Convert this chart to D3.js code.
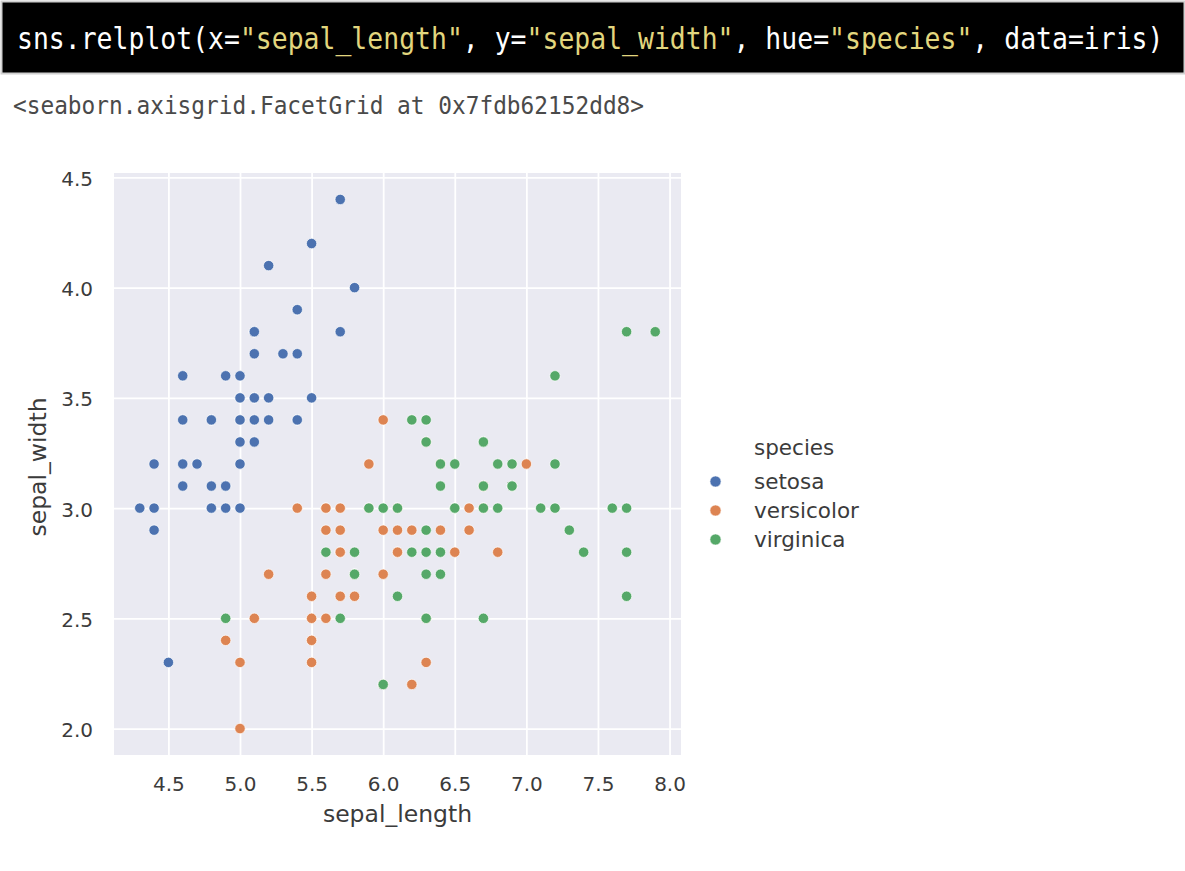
<!DOCTYPE html>
<html>
<head>
<meta charset="utf-8">
<script src="https://cdn.jsdelivr.net/npm/d3@7"></script>
<style>
  html, body { margin: 0; padding: 0; background: #ffffff; }
  svg { display: block; }
</style>
</head>
<body>
<div id="chart"></div>
<script>
// ---- data (iris: sepal_length / sepal_width, dataset order) ----
const species = ["setosa", "versicolor", "virginica"];
const setosaX = [5.1,4.9,4.7,4.6,5.0,5.4,4.6,5.0,4.4,4.9,5.4,4.8,4.8,4.3,5.8,5.7,5.4,5.1,5.7,5.1,5.4,5.1,4.6,5.1,4.8,5.0,5.0,5.2,5.2,4.7,4.8,5.4,5.2,5.5,4.9,5.0,5.5,4.9,4.4,5.1,5.0,4.5,4.4,5.0,5.1,4.8,5.1,4.6,5.3,5.0];
const setosaY = [3.5,3.0,3.2,3.1,3.6,3.9,3.4,3.4,2.9,3.1,3.7,3.4,3.0,3.0,4.0,4.4,3.9,3.5,3.8,3.8,3.4,3.7,3.6,3.3,3.4,3.0,3.4,3.5,3.4,3.2,3.1,3.4,4.1,4.2,3.1,3.2,3.5,3.6,3.0,3.4,3.5,2.3,3.2,3.5,3.8,3.0,3.8,3.2,3.7,3.3];
const versicolorX = [7.0,6.4,6.9,5.5,6.5,5.7,6.3,4.9,6.6,5.2,5.0,5.9,6.0,6.1,5.6,6.7,5.6,5.8,6.2,5.6,5.9,6.1,6.3,6.1,6.4,6.6,6.8,6.7,6.0,5.7,5.5,5.5,5.8,6.0,5.4,6.0,6.7,6.3,5.6,5.5,5.5,6.1,5.8,5.0,5.6,5.7,5.7,6.2,5.1,5.7];
const versicolorY = [3.2,3.2,3.1,2.3,2.8,2.8,3.3,2.4,2.9,2.7,2.0,3.0,2.2,2.9,2.9,3.1,3.0,2.7,2.2,2.5,3.2,2.8,2.5,2.8,2.9,3.0,2.8,3.0,2.9,2.6,2.4,2.4,2.7,2.7,3.0,3.4,3.1,2.3,3.0,2.5,2.6,3.0,2.6,2.3,2.7,3.0,2.9,2.9,2.5,2.8];
const virginicaX = [6.3,5.8,7.1,6.3,6.5,7.6,4.9,7.3,6.7,7.2,6.5,6.4,6.8,5.7,5.8,6.4,6.5,7.7,7.7,6.0,6.9,5.6,7.7,6.3,6.7,7.2,6.2,6.1,6.4,7.2,7.4,7.9,6.4,6.3,6.1,7.7,6.3,6.4,6.0,6.9,6.7,6.9,5.8,6.8,6.7,6.7,6.3,6.5,6.2,5.9];
const virginicaY = [3.3,2.7,3.0,2.9,3.0,3.0,2.5,2.9,2.5,3.6,3.2,2.7,3.0,2.5,2.8,3.2,3.0,3.8,2.6,2.2,3.2,2.8,2.8,2.7,3.3,3.2,2.8,3.0,2.8,3.0,2.8,3.8,2.8,2.8,2.6,3.0,3.4,3.1,3.0,3.1,3.1,3.1,2.7,3.2,3.3,3.0,2.5,3.0,3.4,3.0];
const xTicks = [4.5, 5.0, 5.5, 6.0, 6.5, 7.0, 7.5, 8.0];
const yTicks = [2.0, 2.5, 3.0, 3.5, 4.0, 4.5];
const palette = ["#4c72b0", "#dd8452", "#55a868"];
const codeParts = [
  ["sns.relplot(x=", "#ffffff"], ["\"sepal_length\"", "#e2d67e"], [", y=", "#ffffff"],
  ["\"sepal_width\"", "#e2d67e"], [", hue=", "#ffffff"], ["\"species\"", "#e2d67e"],
  [", data=iris)", "#ffffff"]
];
const outText = "<seaborn.axisgrid.FacetGrid at 0x7fdb62152dd8>";

// ---- build ----
const W = 1185, H = 871;
const svg = d3.select("#chart").append("svg").attr("width", W).attr("height", H);

// code cell
svg.append("rect").attr("x", 1.5).attr("y", 1.5).attr("width", W - 2).attr("height", 72)
  .attr("fill", "#000").attr("stroke", "#d0d0d0").attr("stroke-width", 2);
const codeText = svg.append("text")
  .attr("transform", "translate(17,49) scale(1,1.12)")
  .attr("font-family", "'DejaVu Sans Mono', monospace")
  .attr("font-size", 26.45)
  .attr("xml:space", "preserve")
  .style("white-space", "pre");
codeParts.forEach(([t, c]) => {
  codeText.append("tspan").attr("fill", c).text(t);
});
svg.append("text")
  .attr("transform", "translate(13,114) scale(1,1.1)")
  .attr("font-family", "'DejaVu Sans Mono', monospace")
  .attr("font-size", 22.8)
  .attr("fill", "#4a4a4a")
  .text(outText);

// scales
const x = d3.scaleLinear().domain([4.12, 8.08]).range([114, 681]);
const y = d3.scaleLinear().domain([1.88, 4.52]).range([755, 173]);

// plot background
svg.append("rect")
  .attr("x", x(4.12)).attr("y", y(4.52))
  .attr("width", x(8.08) - x(4.12)).attr("height", y(1.88) - y(4.52))
  .attr("fill", "#eaeaf2");

// grid via axes
const gx = svg.append("g").attr("transform", `translate(0,${y(1.88)})`)
  .call(d3.axisBottom(x).tickValues(xTicks).tickFormat(d3.format(".1f"))
    .tickSize(-(y(1.88) - y(4.52))).tickPadding(9));
const gy = svg.append("g").attr("transform", `translate(${x(4.12)},0)`)
  .call(d3.axisLeft(y).tickValues(yTicks).tickFormat(d3.format(".1f"))
    .tickSize(-(x(8.08) - x(4.12))).tickPadding(21));
[gx, gy].forEach(g => {
  g.select(".domain").remove();
  g.selectAll(".tick line").attr("stroke", "#ffffff").attr("stroke-width", 1.8);
  g.selectAll(".tick text").attr("fill", "#3b3b3b")
    .attr("font-family", "'DejaVu Sans', sans-serif").attr("font-size", 20);
});
gx.selectAll(".tick text").attr("dy", "0.71em").attr("y", 22);
gy.selectAll(".tick text").attr("x", -21).attr("dy", "0.4em");

// points
const allSeries = [
  [setosaX, setosaY], [versicolorX, versicolorY], [virginicaX, virginicaY]
];
const points = [];
allSeries.forEach(([xs, ys], i) => xs.forEach((v, j) => points.push({ x: v, y: ys[j], s: i })));
svg.append("g").selectAll("circle").data(points).join("circle")
  .attr("cx", d => x(d.x)).attr("cy", d => y(d.y)).attr("r", 5.2)
  .attr("fill", d => palette[d.s]).attr("stroke", "#ffffff").attr("stroke-width", 0.7);

// axis labels
svg.append("text").attr("x", (x(4.12) + x(8.08)) / 2).attr("y", 822)
  .attr("text-anchor", "middle").attr("fill", "#3b3b3b")
  .attr("font-family", "'DejaVu Sans', sans-serif").attr("font-size", 23.5)
  .text("sepal_length");
svg.append("text")
  .attr("transform", `translate(46,${(y(1.88) + y(4.52)) / 2 + 3}) rotate(-90)`)
  .attr("text-anchor", "middle").attr("fill", "#3b3b3b")
  .attr("font-family", "'DejaVu Sans', sans-serif").attr("font-size", 23.5)
  .text("sepal_width");

// legend
const lg = svg.append("g");
lg.append("text").attr("x", 754).attr("y", 455).attr("fill", "#3b3b3b")
  .attr("font-family", "'DejaVu Sans', sans-serif").attr("font-size", 21.5).text("species");
species.forEach((s, i) => {
  const yy = 481.5 + i * 29;
  lg.append("circle").attr("cx", 715.5).attr("cy", yy).attr("r", 5.6)
    .attr("fill", palette[i]).attr("stroke", "#ffffff").attr("stroke-width", 0.7);
  lg.append("text").attr("x", 754).attr("y", yy + 7).attr("fill", "#3b3b3b")
    .attr("font-family", "'DejaVu Sans', sans-serif").attr("font-size", 21.5).text(s);
});
</script>
</body>
</html>
